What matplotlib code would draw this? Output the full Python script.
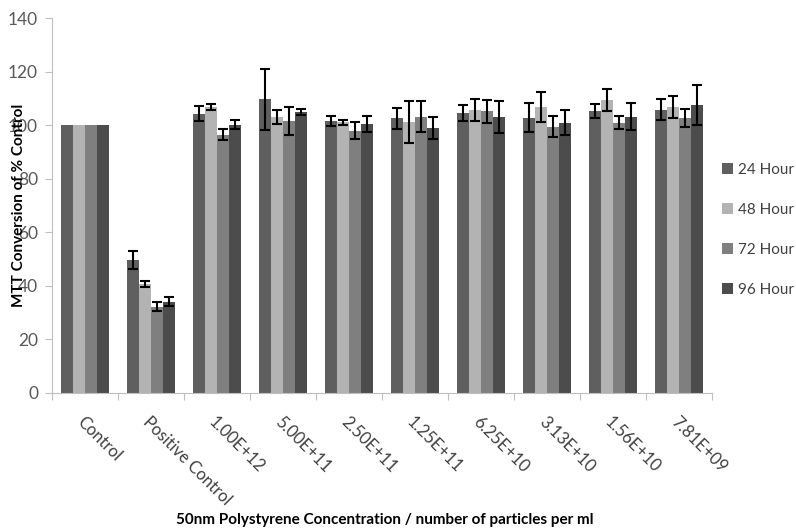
import numpy as np
import matplotlib
matplotlib.use("Agg")
import matplotlib.pyplot as plt

plt.rcParams['font.family'] = ['Lato', 'DejaVu Sans']

##Chart data

categories = ["Control", "Positive Control", "1.00E+12", "5.00E+11", "2.50E+11",
              "1.25E+11", "6.25E+10", "3.13E+10", "1.56E+10", "7.81E+09"]
series_names = ["24 Hour", "48 Hour", "72 Hour", "96 Hour"]

h24 = [100, 49.6, 104.3, 109.6, 101.5, 102.5, 104.6, 102.7, 105.2, 105.8]
h48 = [100, 40.7, 106.8, 103.1, 101.1, 101.2, 105.6, 106.8, 109.3, 106.8]
h72 = [100, 32.2, 96.5, 101.5, 97.9, 103.1, 105.2, 99.4, 100.9, 102.7]
h96 = [100, 34.0, 100.2, 104.9, 100.4, 99.0, 103.1, 100.9, 103.1, 107.5]

err24 = [0, 3.4, 2.9, 11.5, 2.0, 4.0, 2.9, 5.4, 2.7, 3.8]
err48 = [0, 1.0, 1.0, 2.7, 1.0, 7.8, 4.0, 5.7, 4.2, 4.0]
err72 = [0, 1.7, 2.2, 5.2, 3.2, 5.8, 4.3, 3.9, 2.4, 3.5]
err96 = [0, 1.7, 1.6, 1.1, 3.1, 4.1, 6.0, 4.7, 5.0, 7.5]

y_ticks = [0, 20, 40, 60, 80, 100, 120, 140]

colors = ["#5f5f5f", "#b3b3b3", "#7f7f7f", "#4c4c4c"]

##Plot

fig = plt.figure(figsize=(7.96, 5.31), dpi=100)
ax = fig.add_axes([0.0653, 0.2599, 0.8292, 0.7062])

x = np.arange(len(categories))
width = 0.182
values = [h24, h48, h72, h96]
errors = [err24, err48, err72, err96]

for i, (vals, errs) in enumerate(zip(values, errors)):
    pos = x + (i - 1.5) * width
    ax.bar(pos, vals, width=width, color=colors[i], label=series_names[i], zorder=2)
    has_err = np.array(errs) > 0
    ax.errorbar(pos[has_err], np.array(vals)[has_err], yerr=np.array(errs)[has_err],
                fmt="none", ecolor="black", elinewidth=1.5, capsize=3.5, capthick=1.5, zorder=3)

ax.set_xlim(-0.5, len(categories) - 0.5)
ax.set_ylim(0, 140)
ax.set_yticks(y_ticks)
ax.set_xticks(np.arange(len(categories) + 1) - 0.5)
ax.set_xticklabels([])
ax.set_xticks(x, minor=True)
ax.set_xticklabels(categories, minor=True, rotation=-45, ha="left", va="top",
                   rotation_mode="anchor", fontsize=12, color="#404040")
ax.tick_params(axis="x", which="minor", length=0, pad=15)
ax.tick_params(axis="x", which="major", length=5, color="#bfbfbf")
ax.tick_params(axis="y", length=5, color="#bfbfbf", labelsize=12.5, labelcolor="#595959", pad=5)

for side in ["top", "right"]:
    ax.spines[side].set_visible(False)
for side in ["left", "bottom"]:
    ax.spines[side].set_color("#bfbfbf")

ax.set_ylabel("MTT Conversion of % Control", fontsize=11, fontweight="bold")
ax.yaxis.set_label_coords(-0.04, 0.5)
fig.text(0.483, 0.008, "50nm Polystyrene Concentration / number of particles per ml",
         ha="center", va="bottom", fontsize=11, fontweight="bold")

ax.legend(loc="center left", bbox_to_anchor=(0.995, 0.435), frameon=False, fontsize=11,
          handlelength=0.7, handleheight=0.7, handletextpad=0.3, labelspacing=1.7,
          labelcolor="#404040")

fig.savefig("out.png", dpi=100)
